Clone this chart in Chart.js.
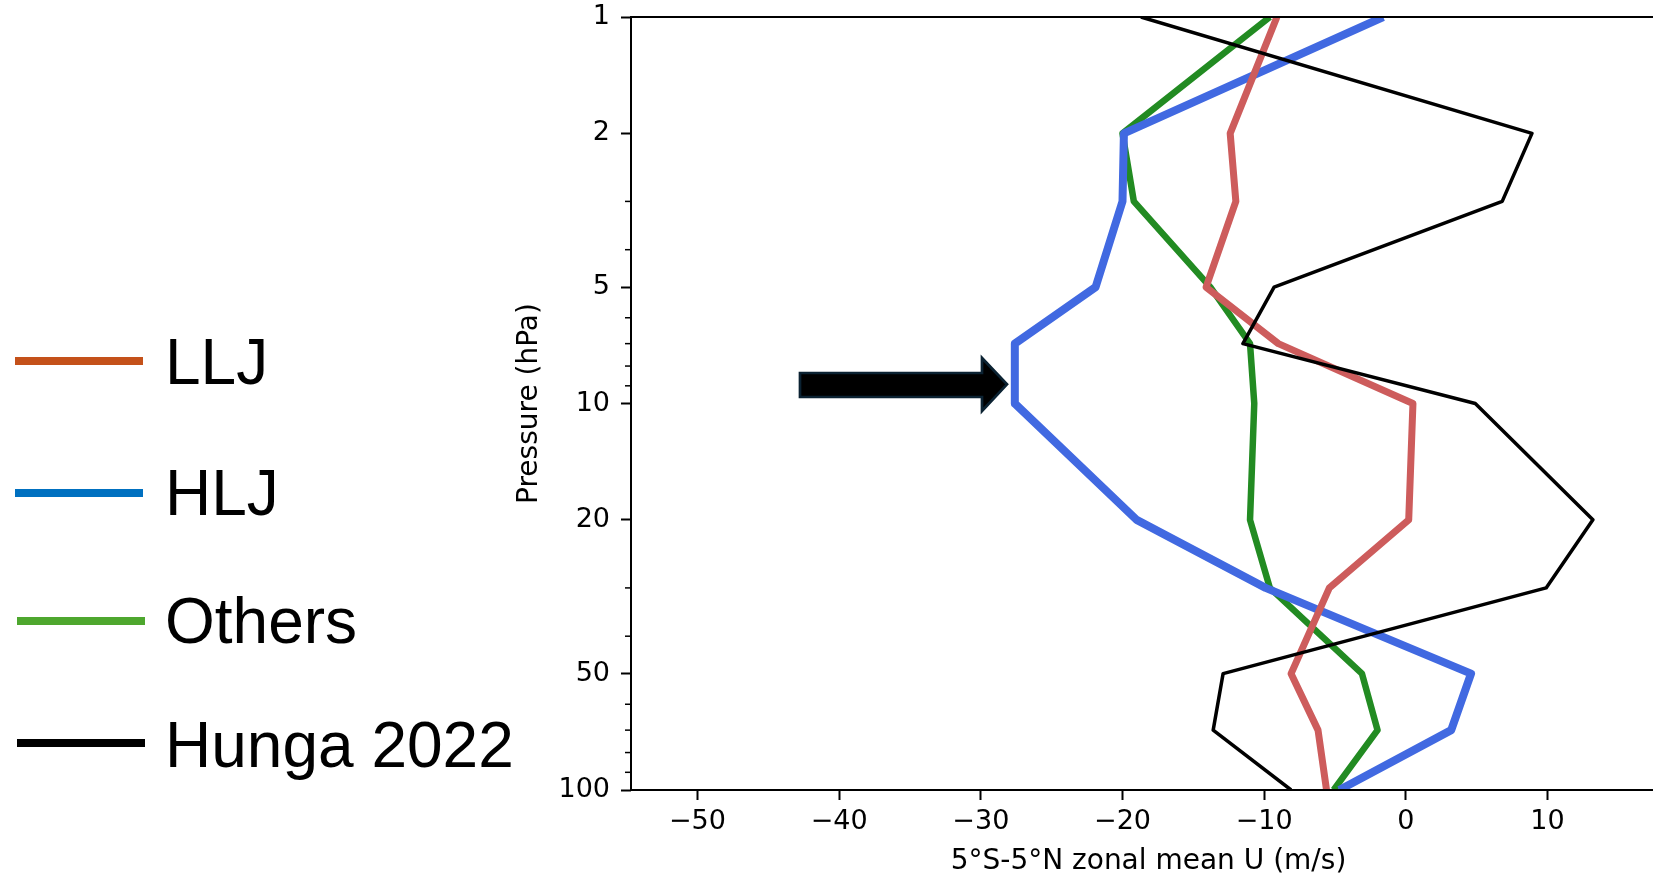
<!DOCTYPE html>
<html>
<head>
<meta charset="utf-8">
<script src="https://cdn.jsdelivr.net/npm/chart.js@4"></script>
<style>
html, body { margin: 0; padding: 0; background: #fff; overflow: hidden; }
#wrap { position: relative; width: 1653px; height: 876px; overflow: hidden; }
#uChart { position: absolute; left: 0; top: 0; }
.key { position: absolute; font-family: "Liberation Sans", Arial, sans-serif; font-size: 64px; line-height: 64px; color: #000; white-space: nowrap; }
.swatch { position: absolute; height: 8px; width: 128px; }
#arrow { position: absolute; left: 0; top: 0; }
</style>
</head>
<body>
<div id="wrap">
  <canvas id="uChart" width="1670" height="876"></canvas>
  <div id="legend"></div>
  <svg id="arrow" width="1653" height="876">
    <polygon points="800,373 982,373 982,358 1007,384.3 982,411 982,397 800,397"
             fill="#000" stroke="#0b2232" stroke-width="2.7" stroke-linejoin="miter"/>
  </svg>
</div>
<script>
// pressure levels (hPa) and 5S-5N zonal mean U (m/s) for each group
const levels = [1, 2, 3, 5, 7, 10, 20, 30, 50, 70, 100];
const llj    = [-9.1, -12.4, -12.0, -14.1, -9.0, 0.5, 0.2, -5.4, -8.1, -6.2, -5.6];
const hlj    = [-1.6, -19.9, -20.0, -21.9, -27.6, -27.6, -19.0, -9.9, 4.6, 3.2, -4.7];
const others = [-9.6, -20.0, -19.2, -13.8, -11.0, -10.7, -11.0, -9.6, -3.1, -2.0, -5.1];
const hunga  = [-18.7, 8.9, 6.8, -9.3, -11.5, 4.9, 13.2, 9.9, -12.9, -13.6, -8.1];

const xTicks = [-50, -40, -30, -20, -10, 0, 10];
const yTicks = [1, 2, 5, 10, 20, 50, 100];
const yMinorTicks = [3, 4, 6, 7, 8, 9, 30, 40, 60, 70, 80, 90];

const legendLabels = ['LLJ', 'HLJ', 'Others', 'Hunga 2022'];
const legendColors = ['#c4511a', '#0070c0', '#4ea72e', '#000000'];

// legend drawn as html (it is a separate overlay in the original figure)
const legendSpots = [
    { line: 360.7, base: 384, x0: 15 },
    { line: 492.7, base: 515, x0: 15 },
    { line: 620.7, base: 643.3, x0: 17 },
    { line: 742.7, base: 766.7, x0: 17 }
];
const legendBox = document.getElementById('legend');
legendLabels.forEach((name, i) => {
    const sw = document.createElement('div');
    sw.className = 'swatch';
    sw.style.left = legendSpots[i].x0 + 'px';
    sw.style.top = (legendSpots[i].line - 4) + 'px';
    sw.style.background = legendColors[i];
    legendBox.appendChild(sw);
    const txt = document.createElement('div');
    txt.className = 'key';
    txt.style.left = '165px';
    txt.style.top = (legendSpots[i].base - 54.2) + 'px';
    txt.textContent = name;
    legendBox.appendChild(txt);
});

const profile = vals => vals.map((u, i) => ({ x: u, y: levels[i] }));

// spines + minor log ticks
const frame = {
    id: 'frame',
    afterDraw(chart) {
        const { ctx, chartArea: a, scales: { y } } = chart;
        ctx.save();
        ctx.strokeStyle = '#000';
        ctx.lineWidth = 2;
        ctx.strokeRect(a.left, a.top, a.right - a.left, a.bottom - a.top);
        ctx.lineWidth = 1.5;
        yMinorTicks.forEach(v => {
            const py = y.getPixelForValue(v);
            ctx.beginPath();
            ctx.moveTo(a.left - 6, py);
            ctx.lineTo(a.left, py);
            ctx.stroke();
        });
        ctx.restore();
    }
};

const axisFont = { family: 'DejaVu Sans', size: 27 };

const ctx = document.getElementById('uChart').getContext('2d');

new Chart(ctx, {
    type: 'line',
    data: {
        datasets: [
            { label: 'Hunga 2022', data: profile(hunga), borderColor: '#000000', borderWidth: 3.5, order: 0 },
            { label: 'LLJ', data: profile(llj), borderColor: '#cd5c5c', borderWidth: 7, order: 1 },
            { label: 'HLJ', data: profile(hlj), borderColor: '#4169e1', borderWidth: 8, order: 2 },
            { label: 'Others', data: profile(others), borderColor: '#228b22', borderWidth: 6.5, order: 3 }
        ]
    },
    options: {
        responsive: false,
        animation: false,
        layout: { padding: { left: 0, right: 4, top: 17, bottom: 0 } },
        plugins: { legend: { display: false }, tooltip: { enabled: false } },
        elements: {
            point: { radius: 0 },
            line: { tension: 0, fill: false, borderJoinStyle: 'round', borderCapStyle: 'butt' }
        },
        scales: {
            x: {
                type: 'linear',
                min: -54.69,
                max: 18.36,
                afterBuildTicks: s => { s.ticks = xTicks.map(v => ({ value: v })); },
                afterFit: s => { s.height = 86; s.paddingLeft = 0; s.paddingRight = 0; },
                border: { display: false },
                grid: { drawOnChartArea: false, tickLength: 10, tickWidth: 2, tickColor: '#000' },
                ticks: {
                    color: '#000', font: axisFont, padding: 6, maxRotation: 0, autoSkip: false,
                    callback: v => (v < 0 ? '\u2212' + Math.abs(v) : String(v))
                },
                title: {
                    display: true, text: '5°S-5°N zonal mean U (m/s)', color: '#000',
                    font: { family: 'DejaVu Sans', size: 28, lineHeight: 1 }, padding: 0
                }
            },
            y: {
                type: 'logarithmic',
                reverse: true,
                min: 1,
                max: 100,
                afterBuildTicks: s => { s.ticks = yTicks.map(v => ({ value: v })); },
                afterFit: s => { s.width = 631; s.paddingTop = 0; s.paddingBottom = 0; },
                border: { display: false },
                grid: { drawOnChartArea: false, tickLength: 10, tickWidth: 2, tickColor: '#000' },
                ticks: {
                    color: '#000', font: axisFont, padding: 11, autoSkip: false,
                    callback: v => String(v)
                },
                title: {
                    display: true, text: 'Pressure (hPa)', color: '#000',
                    font: { family: 'DejaVu Sans', size: 28 }, padding: { top: 513, bottom: 0 }
                }
            }
        }
    },
    plugins: [frame]
});
</script>
</body>
</html>
